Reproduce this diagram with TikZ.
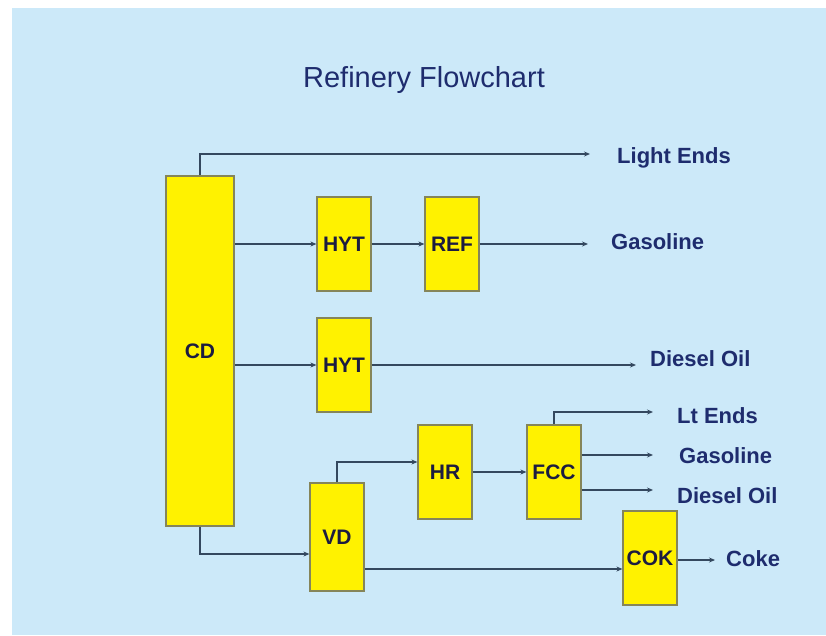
\documentclass[tikz,border=0pt]{standalone}
\usepackage{fontspec}
\setmainfont{Liberation Sans}
\usetikzlibrary{arrows.meta, positioning, calc}
\definecolor{skyback}{HTML}{CCE9F9}
\definecolor{navytext}{HTML}{1E2C6E}
\definecolor{unittext}{HTML}{1C1C40}
\definecolor{flowline}{HTML}{34485F}
\definecolor{unitedge}{HTML}{85855A}

\begin{document}
\begin{tikzpicture}[
  x=1pt, y=-1pt,
  unit/.style={draw=unitedge, line width=1.2pt, fill=yellow, text=unittext, inner sep=0pt,
    minimum width=54pt, minimum height=94pt, font=\fontsize{21}{25}\selectfont\bfseries},
  product/.style={anchor=west, text=navytext, inner sep=0pt, font=\fontsize{22}{26}\selectfont\bfseries},
  flow/.style={draw=flowline, line width=1.1pt, -{Stealth[length=6pt, width=5pt]}}
]

% Page
\useasboundingbox (0,0) rectangle (826,635);
\fill[white] (0,0) rectangle (826,635);
\fill[skyback] (12,8) rectangle (826,635);

\node[font=\fontsize{29}{34}\selectfont, text=navytext] (title) at (424,80) {Refinery Flowchart};

% Units
\node[unit, minimum width=68pt, minimum height=350pt] (cd) at (200,351) {CD};
\node[unit] (hyt1) at (344,244) {HYT};
\node[unit] (ref) at (452,244) {REF};
\node[unit] (hyt2) at (344,365) {HYT};
\node[unit, minimum height=108pt] (vd) at (337,537) {VD};
\node[unit] (hr) at (445,472) {HR};
\node[unit] (fcc) at (554,472) {FCC};
\node[unit] (cok) at (650,558) {COK};

% Product ends
\coordinate (le) at (590,154);
\coordinate (gas1) at (588,244);
\coordinate (dsl1) at (636,365);
\coordinate (lte) at (653,412);
\coordinate (gas2) at (653,455);
\coordinate (dsl2) at (653,490);
\coordinate (coke) at (715,560);

\node[product] (lightends) at (617,158) {Light Ends};
\node[product] (gasoline1) at (611,242) {Gasoline};
\node[product] (diesel1) at (650,359) {Diesel Oil};
\node[product] (ltends) at (677,416) {Lt Ends};
\node[product] (gasoline2) at (679,456) {Gasoline};
\node[product] (diesel2) at (677,496) {Diesel Oil};
\node[product] (cokelbl) at (726,559) {Coke};

% Flows
\draw[flow] (cd.north) |- (le);
\draw[flow] (cd.east |- hyt1) -- (hyt1);
\draw[flow] (hyt1) -- (ref);
\draw[flow] (ref) -- (gas1);
\draw[flow] (cd.east |- hyt2) -- (hyt2);
\draw[flow] (hyt2) -- (dsl1);
\draw[flow] (cd.south) |- ([yshift=-17pt]vd.west);
\draw[flow] (vd.north) |- ([yshift=10pt]hr.west);
\draw[flow] (hr) -- (fcc);
\draw[flow] (fcc.north) |- (lte);
\draw[flow] (fcc.east |- gas2) -- (gas2);
\draw[flow] (fcc.east |- dsl2) -- (dsl2);
\draw[flow] ([yshift=-32pt]vd.east) -- ([yshift=-32pt]vd.east -| cok.west);
\draw[flow] (cok.east |- coke) -- (coke);

\end{tikzpicture}
\end{document}
